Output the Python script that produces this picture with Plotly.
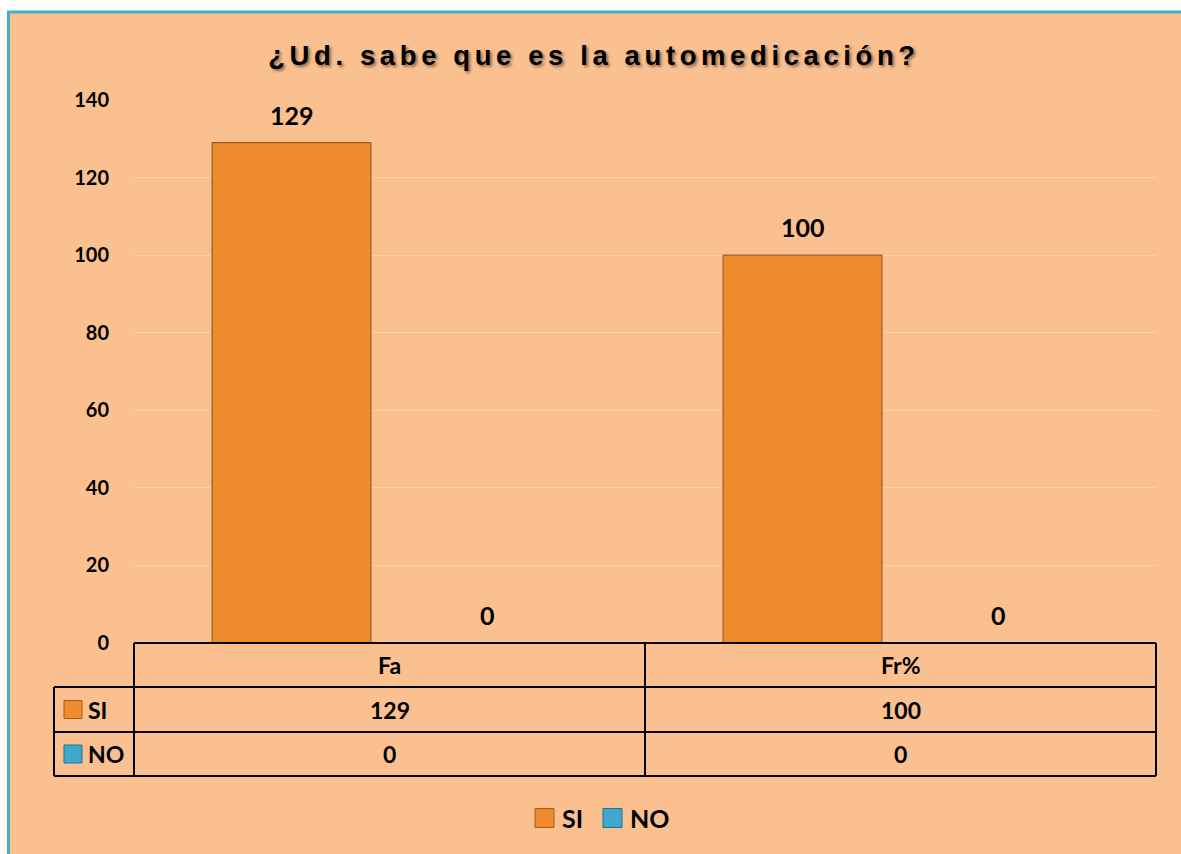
import plotly.graph_objects as go

# ---- data ----
categories = ["Fa", "Fr%"]
series_names = ["SI", "NO"]
si_values = [129, 100]
no_values = [0, 0]
y_ticks = [0, 20, 40, 60, 80, 100, 120, 140]
title_text = "¿Ud. sabe que es la automedicación?"

W, H = 1181, 854
def px(x): return x / W
def py(y): return 1 - y / H

ORANGE = "#F08A2E"
BLUE = "#3FA9CC"
EDGES = ["#A85A1E", "#23708F"]
PEACH = "#FAC090"
FONT = "Lato"

x_left, x_right = 134, 1156
y_top, y_zero = 100, 643

fig = go.Figure()
vals = [si_values, no_values]
colors = [ORANGE, BLUE]
for name, v, c, e in zip(series_names, vals, colors, EDGES):
    fig.add_trace(go.Bar(
        x=categories, y=v, name=name,
        marker=dict(color=c, line=dict(color="#A35A22", width=1.2)),
        hoverinfo="x+y+name", showlegend=False,
    ))

# data labels above bars
offsets = [-98, 98]
for v, off in zip(vals, offsets):
    for cat, val in zip(categories, v):
        fig.add_annotation(x=cat, y=val, xref="x", yref="y", text=str(val),
                           showarrow=False, xshift=off, yshift=28,
                           xanchor="center", yanchor="middle",
                           font=dict(family=FONT, size=25, color="black", weight="bold"))

shapes = []
# panel background with blue border
shapes.append(dict(type="rect", xref="paper", yref="paper",
                   x0=px(8.5), x1=px(1300), y0=py(12), y1=py(1000),
                   fillcolor=PEACH, line=dict(color="#4BACC6", width=3), layer="below"))

# data table lines
lw = dict(color="black", width=2)
row_y = [643, 687, 732, 776]
shapes.append(dict(type="line", xref="paper", yref="paper", x0=px(x_left), x1=px(x_right),
                   y0=py(row_y[0]), y1=py(row_y[0]), line=lw))
for yy in row_y[1:]:
    shapes.append(dict(type="line", xref="paper", yref="paper", x0=px(54), x1=px(x_right),
                       y0=py(yy), y1=py(yy), line=lw))
shapes.append(dict(type="line", xref="paper", yref="paper", x0=px(54), x1=px(54),
                   y0=py(687), y1=py(776), line=lw))
mid = (x_left + x_right) / 2
for xx in [x_left, mid, x_right]:
    shapes.append(dict(type="line", xref="paper", yref="paper", x0=px(xx), x1=px(xx),
                       y0=py(643), y1=py(776), line=lw))

# table texts
col_centers = [(x_left + mid) / 2, (mid + x_right) / 2]
row_centers = [(row_y[i] + row_y[i + 1]) / 2 for i in range(3)]
tfont = dict(family=FONT, size=23, color="black", weight="bold")
for cx, cat in zip(col_centers, categories):
    fig.add_annotation(x=px(cx), y=py(row_centers[0]), xref="paper", yref="paper",
                       xanchor="center", yanchor="middle",
                       text=cat, showarrow=False, font=tfont)
for r, (name, v, c) in enumerate(zip(series_names, vals, colors)):
    ry = row_centers[r + 1]
    shapes.append(dict(type="rect", xref="paper", yref="paper",
                       x0=px(64), x1=px(82), y0=py(ry - 9), y1=py(ry + 9),
                       fillcolor=c, line=dict(color=EDGES[r], width=1)))
    fig.add_annotation(x=px(86), y=py(ry), xref="paper", yref="paper",
                       xanchor="left", yanchor="middle",
                       text=name, showarrow=False, font=tfont)
    for cx, val in zip(col_centers, v):
        fig.add_annotation(x=px(cx), y=py(ry), xref="paper", yref="paper",
                           xanchor="center", yanchor="middle",
                           text=str(val), showarrow=False, font=tfont)

# bottom legend (drawn manually)
legend_marker_x = [535, 603]
legend_y = 818
for name, c, e, lx in zip(series_names, colors, EDGES, legend_marker_x):
    shapes.append(dict(type="rect", xref="paper", yref="paper",
                       x0=px(lx), x1=px(lx + 19), y0=py(legend_y - 9.5), y1=py(legend_y + 9.5),
                       fillcolor=c, line=dict(color=e, width=1)))
    fig.add_annotation(x=px(lx + 25), y=py(legend_y), xref="paper", yref="paper",
                       xanchor="left", yanchor="middle", text=name, showarrow=False,
                       font=dict(family=FONT, size=25, color="black", weight="bold"))

fig.update_layout(
    width=W, height=H,
    margin=dict(l=0, r=0, t=0, b=0, pad=0, autoexpand=False),
    paper_bgcolor="white", plot_bgcolor="rgba(0,0,0,0)",
    barmode="group", bargap=0.233, bargroupgap=0.19,
    shapes=shapes,
    title=dict(text='<span style="letter-spacing:4.6px">' + title_text + '</span>',
               x=px(594), xanchor="center", xref="paper",
               y=py(55), yanchor="middle", yref="paper",
               font=dict(family="Liberation Sans", size=27.5, color="black", weight="bold",
                         shadow="2px 2px 3px rgba(0,0,0,0.45)")),
    xaxis=dict(domain=[px(x_left), px(x_right)], showticklabels=False, showgrid=False,
               zeroline=False, showline=False, ticks="", automargin=False),
    yaxis=dict(domain=[py(y_zero), py(y_top)], range=[0, 140], tickvals=y_ticks,
               showgrid=True, gridcolor="rgba(255,232,210,0.45)", gridwidth=1,
               zeroline=False, showline=False, ticks="", ticklabelstandoff=24,
               automargin=False,
               tickfont=dict(family=FONT, size=20, color="black", weight="bold")),
    showlegend=False,
)

fig.write_html("out.html", config={"displayModeBar": False},
               post_script="document.body.style.margin='0';document.body.style.padding='0';")
